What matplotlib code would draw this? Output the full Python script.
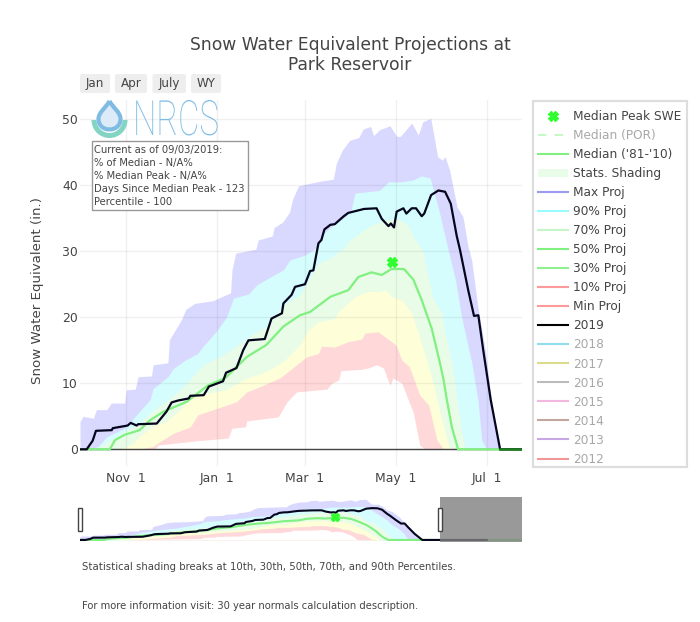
import matplotlib
matplotlib.use("Agg")
import matplotlib.pyplot as plt
from matplotlib.lines import Line2D
from matplotlib.patches import Patch, Rectangle, FancyBboxPatch, Wedge, PathPatch
from matplotlib.path import Path
from matplotlib.patheffects import AbstractPathEffect
from matplotlib.transforms import Affine2D

TITLE = "Snow Water Equivalent Projections at\nPark Reservoir"
YLABEL = "Snow Water Equivalent (in.)"
X_TICKS = [31, 92, 151, 212, 273]
X_LABELS = ["Nov  1", "Jan  1", "Mar  1", "May  1", "Jul  1"]
Y_TICKS = [0, 10, 20, 30, 40, 50]
BUTTONS = ["Jan", "Apr", "July", "WY"]
INFO = ["Current as of 09/03/2019:", "% of Median - N/A%", "% Median Peak - N/A%",
        "Days Since Median Peak - 123", "Percentile - 100"]
FOOT1 = "Statistical shading breaks at 10th, 30th, 50th, 70th, and 90th Percentiles."
FOOT2 = "For more information visit: 30 year normals calculation description."

# days since Oct 1, inches of SWE
wy2019_d = [0, 4.5, 8.5, 10.7, 21.3, 22, 32, 34, 38, 39, 51.5, 58, 61.5, 66, 73, 74, 83, 86.5, 90, 96, 98, 105,
            109.5, 113, 124, 128.5, 135.5, 136.5, 142, 144.3, 151, 154.4, 156.6, 160, 162, 164, 168, 171, 177, 180,
            190.6, 199, 202.5, 207, 208.6, 210.7, 212.5, 217, 219, 222.6, 225.5, 229.3, 231, 235.6, 240.5, 245,
            248.8, 252.8, 255, 260.6, 264.4, 267.3, 270.6, 275.6, 281.9, 335]
wy2019_v = [0, 0, 1.3, 2.8, 2.9, 3.2, 3.6, 4.0, 3.6, 3.8, 3.9, 5.7, 7.1, 7.4, 7.7, 8.1, 8.2, 9.5, 9.8, 10.3, 11.6, 12.3,
            15.0, 16.5, 16.7, 19.8, 20.6, 22.1, 23.4, 24.6, 25.0, 27.0, 27.1, 31.2, 31.7, 33.3, 34.0, 34.1, 35.3, 35.8,
            36.4, 36.5, 34.9, 33.8, 34.2, 33.6, 36.0, 36.5, 35.7, 36.5, 36.5, 35.3, 35.7, 38.5, 39.2, 39.0,
            37.2, 32.3, 30.2, 24.0, 20.2, 20.3, 15.0, 7.5, 0, 0]

max_d = [0, 2, 9, 11, 18, 21, 30, 31, 37, 39, 48, 49, 59, 60, 68, 71, 77, 89, 101, 102, 104.5, 118, 119.6, 129, 130.3,
         136, 140.6, 142.7, 146.6, 161, 170, 172, 176, 181, 187, 190, 195, 197, 201, 208, 212.5, 215, 222.6, 227, 230,
         235.4, 240, 243, 245, 248, 253, 257, 260.4, 262.8, 267, 272, 276, 282]
max_v = [4.2, 5.0, 4.7, 6, 6, 7, 7, 9, 9.1, 11, 11.1, 12.8, 13.1, 16.6, 19.6, 21.2, 22.1, 22.5, 23.7, 27.2, 29.7, 30.3, 31.7, 32.3, 33.6,
         34.4, 35.9, 37.9, 39.9, 40.6, 40.9, 43.3, 45.3, 46.8, 47.2, 48.5, 48.9, 47.5, 48.4, 49, 47.4, 47.4, 49.4, 47.6, 49.6,
         50.1, 44.3, 43.8, 44.3, 42.3, 36.7, 35.2, 30.7, 28.7, 21.6, 15, 7.5, 0]

p90_d = [5, 12, 18, 30, 39, 47, 49, 59, 62.5, 70.5, 79, 81.5, 92, 98.5, 103, 113, 118.6, 128.6, 136.5, 141, 151, 159, 163,
         165, 172, 178, 182, 184.5, 201, 207, 216, 223.7, 229, 235, 241.6, 246, 252, 256, 263, 267, 269.6, 273]
p90_v = [0, 0.4, 1.9, 3.2, 5.5, 7.5, 9.2, 11, 12.2, 13.5, 14.5, 15.3, 18, 20.1, 22.9, 23.5, 24.9, 26.2, 27.2, 28.7, 29.4, 30.6, 32.5,
         33, 34.3, 35.2, 36.3, 38.8, 39.2, 40.5, 40.5, 40.8, 41.4, 41.1, 35.5, 31.2, 25.6, 20.1, 13, 7.5, 1.4, 0]

p70_d = [11, 20, 30, 41, 48, 58, 67, 71.6, 80.5, 82.7, 96, 100.7, 115, 125, 136.5, 147.6, 156.7, 160, 168, 178, 180, 192.4,
         201.3, 212.5, 220, 223.7, 230, 236.5, 243, 244, 250, 253, 256, 258.5]
p70_v = [0, 1.3, 2.7, 4.2, 5.7, 7.3, 9, 10, 12.3, 12.8, 14.3, 15, 17.3, 18.6, 21.9, 23.4, 26.9, 28.2, 29, 30.7, 31.5, 33.5,
         34.5, 35, 34, 32.2, 30.2, 23.1, 20.6, 18.6, 12.5, 7.5, 3, 0]

p50_d = [27, 35.7, 40, 49, 58, 67, 76, 85, 97.5, 112, 125, 136.5, 147.6, 153, 160, 171, 173, 184.5, 193, 201, 205, 209, 216,
         222.6, 227, 232.6, 237, 241.6, 247.6, 250]
p50_v = [0, 0.9, 2, 3.5, 4.2, 6, 8, 8.5, 9, 10.8, 11.8, 13.3, 15.8, 18, 19.3, 19.8, 20.8, 23.1, 23.9, 23.9, 24.2, 23.1, 22.6,
         20.6, 17.6, 13.5, 10, 5.5, 0.4, 0]

p30_d = [39, 49, 52.5, 62.5, 74, 79, 92, 105, 112, 123, 134, 141, 152, 160, 162, 171, 180, 189, 191.3, 200, 206, 212, 216,
         221, 228, 234, 239.5, 244]
p30_v = [0, 0.4, 1, 2.4, 3.4, 5.2, 6.2, 7.2, 8.7, 9.7, 10.8, 12, 14, 14.5, 15.6, 15.5, 16.3, 16.7, 17.6, 17.8, 16.8, 15.8, 13.5,
         12.5, 8.2, 6.7, 1.4, 0]

p10_d = [50, 52.5, 79, 99.5, 102, 111, 112, 133, 139, 145.4, 165.6, 169, 173.6, 175, 189, 194.6, 199, 203.6, 208, 210, 216,
         223.7, 228, 231.5]
p10_v = [0, 0.65, 1.3, 1.7, 3.2, 3.4, 4.3, 4.9, 7.2, 8.7, 9.1, 10, 10.5, 11.9, 12.1, 12.4, 12.8, 12.3, 9.7, 10.8, 10,
         5.5, 0.65, 0]

median_d = [0, 20, 23.5, 30, 40, 47, 56, 71.6, 86, 97.5, 112, 125, 136.5, 147.6, 154.4, 168, 180, 186.8, 195.6, 202.5, 209,
            217.4, 223.7, 229.3, 236, 241.6, 244, 246, 249.5, 253.7, 365]
median_v = [0, 0, 1.4, 2.2, 2.9, 4.4, 5.7, 7.2, 9.7, 10.8, 14, 15.8, 18.6, 20.3, 20.8, 23.1, 24.1, 26.1, 26.8, 26.4, 27.3,
            27.3, 25.7, 22.6, 18.3, 13, 10.5, 7.7, 3.4, 0, 0]

overlap_d = [282, 335]
overlap_v = [0, 0]
peak_d = [209.7]
peak_v = [28.4]

legend_labels = ["Median Peak SWE", "Median (POR)", "Median ('81-'10)", "Stats. Shading", "Max Proj", "90% Proj",
                 "70% Proj", "50% Proj", "30% Proj", "10% Proj", "Min Proj", "2019", "2018", "2017", "2016", "2015",
                 "2014", "2013", "2012"]
legend_colors = ["#2fff2f", "#c8f8c8", "#80f080", "#e8fce8", "#9a9af0", "#9afcfc", "#c8f5c8", "#80f080", "#90f090",
                 "#ff9a9a", "#ff9a9a", "#000000", "#8fdcec", "#dcdc8c", "#bbbbbb", "#f4b8e0", "#c4a8a0", "#c8a8e4",
                 "#f09898"]
legend_hidden = ["Median (POR)", "2018", "2017", "2016", "2015", "2014", "2013", "2012"]

W, H = 700, 622
plt.rcParams["font.family"] = ["DejaVu Sans"]
fig = plt.figure(figsize=(7, 6.22), dpi=100, facecolor="white")
TXT = "#444444"


def rect(x0, y0, x1, y1):
    return [x0 / W, 1 - y1 / H, (x1 - x0) / W, (y1 - y0) / H]


def bands(ax):
    for d, v, c, z in [(max_d, max_v, "#d9d9ff", 1.0), (p90_d, p90_v, "#d5fdfd", 1.1), (p70_d, p70_v, "#e8fce8", 1.2),
                       (p50_d, p50_v, "#fefed8", 1.3), (p30_d, p30_v, "#ffd9d9", 1.4), (p10_d, p10_v, "#ffffff", 1.5)]:
        ax.fill_between(d, 0, v, color=c, lw=0, zorder=z)


ax = fig.add_axes(rect(80, 100, 522, 466))
bands(ax)
ax.plot(wy2019_d, wy2019_v, color="#05051e", lw=1.6, zorder=4, solid_joinstyle="round")
ax.plot(median_d, median_v, color="#80f080", lw=1.6, zorder=3)
ax.plot(overlap_d, overlap_v, color="#1f7f1f", lw=1.8, zorder=5)
ax.plot(peak_d, peak_v, ls="none", marker="X", ms=7, mfc="#2fff2f", mec="#2fff2f", zorder=6)
ax.axhline(0, color="#444444", lw=1, zorder=2.5)
ax.set_xlim(0, 296.6)
ax.set_ylim(-2.53, 52.9)
ax.set_xticks(X_TICKS, X_LABELS)
ax.set_yticks(Y_TICKS)
ax.grid(True, color="#000000", alpha=0.06, lw=1)
for g in ax.get_xgridlines() + ax.get_ygridlines():
    g.set_zorder(2)
ax.tick_params(length=0, labelsize=8.9, labelcolor=TXT, pad=4)
ax.tick_params(axis="y", pad=1.5)
for s in ax.spines.values():
    s.set_visible(False)

mini = fig.add_axes(rect(80, 497, 522, 542))
bands(mini)
mini.plot(wy2019_d, wy2019_v, color="#05051e", lw=1.5, zorder=4)
mini.plot(median_d, median_v, color="#80f080", lw=1.5, zorder=3)
mini.plot(peak_d, peak_v, ls="none", marker="X", ms=6, mfc="#2fff2f", mec="#2fff2f", zorder=6)
mini.set_xlim(0, 364)
mini.set_ylim(-2.53, 52.9)
mini.axis("off")
mini.axvspan(296.6, 364, color="#808080", alpha=0.8, lw=0, zorder=7)

ov = fig.add_axes([0, 0, 1, 1], facecolor="none")
ov.set_xlim(0, W)
ov.set_ylim(H, 0)
ov.axis("off")

ov.text(350, 55, TITLE, ha="center", va="center", fontsize=12.3, color=TXT, linespacing=1.2)
ov.text(38, 290.5, YLABEL, rotation=90, ha="center", va="center", fontsize=9.6, color=TXT)

for b, (x0, x1) in zip(BUTTONS, [(80, 110), (115, 147), (152.5, 186), (191, 221)]):
    ov.add_patch(FancyBboxPatch((x0 + 2, 76), x1 - x0 - 4, 15, boxstyle="round,pad=2,rounding_size=2", fc="#eeeeee", ec="none"))
    ov.text((x0 + x1) / 2, 83.3, b, ha="center", va="center", fontsize=8.6, color=TXT)


class Squeeze(AbstractPathEffect):
    def __init__(self, sx, x0):
        super().__init__()
        self.sx, self.x0 = sx, x0

    def draw_path(self, renderer, gc, tpath, affine, rgbFace=None):
        a = affine + Affine2D().translate(-self.x0, 0).scale(self.sx, 1).translate(self.x0, 0)
        renderer.draw_path(gc, tpath, a, rgbFace)


ov.text(133, 135, "NRCS", ha="left", va="baseline", fontsize=35, family="Roboto", weight="light", color="#7fbce4",
        path_effects=[Squeeze(0.68, 133)])
ov.add_patch(Wedge((109.5, 120), 18, 0, 180, width=5, fc="#84d4c4", ec="none"))
drop = Path([(109.5, 101), (106, 108), (98.5, 112), (98.5, 119), (98.5, 133), (120.5, 133), (120.5, 119), (120.5, 112), (113, 108), (109.5, 101)],
            [Path.MOVETO] + [Path.CURVE4] * 9)
ov.add_patch(PathPatch(drop, fc="#dcebf7", ec="#7fbce4", lw=3))

ov.add_patch(Rectangle((91.7, 140.7), 156.6, 69.3, fc="white", ec="#999999", lw=1, zorder=5))
for i, line in enumerate(INFO):
    ov.text(94.5, 149.5 + i * 13.05, line, ha="left", va="center", fontsize=7.2, color=TXT, zorder=6)

for x0 in (77.5, 438):
    ov.add_patch(Rectangle((x0, 508), 4.3, 22.7, fc="white", ec="#444444", lw=1))

ov.text(82, 567, FOOT1, ha="left", va="center", fontsize=7.3, color=TXT)
ov.text(82, 606, FOOT2, ha="left", va="center", fontsize=7.2, color=TXT)

ov.add_patch(Rectangle((532.5, 100.7), 154, 366, fc="white", ec="#dddddd", lw=1.6, zorder=1))

handles = []
for lab, col in zip(legend_labels, legend_colors):
    if lab == "Median Peak SWE":
        handles.append(Line2D([], [], ls="none", marker="X", ms=7, mfc=col, mec=col))
    elif lab == "Median (POR)":
        handles.append(Line2D([], [], color=col, lw=1.5, ls=(0, (4, 4))))
    elif lab == "Stats. Shading":
        handles.append(Patch(fc=col, ec="none"))
    else:
        handles.append(Line2D([], [], color=col, lw=1.5))
leg = fig.legend(handles, legend_labels, loc="upper left", bbox_to_anchor=(538 / W, 1 - 110 / H),
                 frameon=False, fontsize=8.7, handlelength=2.48, handletextpad=0.45, labelspacing=0.5,
                 borderaxespad=0, borderpad=0)
for t in leg.get_texts():
    t.set_color("#a8a8a8" if t.get_text() in legend_hidden else TXT)

fig.savefig("out.png", dpi=100)
